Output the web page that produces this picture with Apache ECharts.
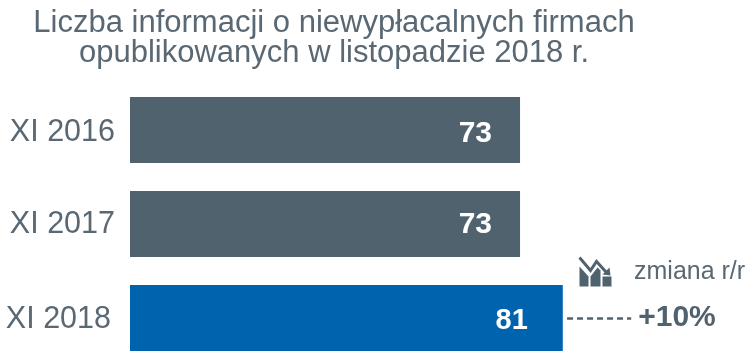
<!DOCTYPE html>
<html><head><meta charset="utf-8">
<style>html,body{margin:0;padding:0;background:#fff;width:753px;height:358px;overflow:hidden}#c{width:753px;height:380px}</style>
<script src="https://cdn.jsdelivr.net/npm/echarts@6/dist/echarts.min.js"></script>
</head><body><div id="c"></div>
<script>
const categories = ['XI 2016','XI 2017','XI 2018'];
const values = [73,73,81];
const titleLines = ['Liczba informacji o niewypłacalnych firmach','opublikowanych w listopadzie 2018 r.'];
const changeLabel = 'zmiana r/r';
const changeValue = '+10%';
const grey = '#51626f', blue = '#0063ae', textGrey = '#5a6873', font = '"Liberation Sans", Arial, sans-serif';
const chart = echarts.init(document.getElementById('c'), null, {renderer:'canvas'});
const axisText = {fontFamily:font,fontSize:30.5,color:textGrey};
chart.setOption({
  animation:false,
  backgroundColor:'#fff',
  title:{text:titleLines.join('\n'),left:329,top:3,textAlign:'center',
    textStyle:{fontFamily:font,fontSize:31,fontWeight:'normal',color:textGrey,lineHeight:30}},
  grid:{left:130,top:83,width:623,height:282},
  xAxis:{type:'value',min:0,max:116.6,show:false},
  yAxis:{type:'category',inverse:true,data:categories,
    axisLine:{show:false},axisTick:{show:false},
    axisLabel:{margin:15,
      formatter:(v,i)=>`{r${i}|${v}}`,
      rich:{r0:{...axisText,padding:[5,0,0,0]},
            r1:{...axisText,padding:[1,0,0,0]},
            r2:{...axisText,padding:[4,4,0,0]}}}},
  series:[{type:'bar',barWidth:66,
    data:values.map((v,i)=>({value:v,
      itemStyle:{color:i===2?blue:grey},
      label:{distance:i===2?35:28,offset:[0,[4,1,2.5][i]],fontSize:i===2?29:30}})),
    label:{show:true,position:'insideRight',color:'#fff',fontFamily:font,fontWeight:'bold',formatter:'{c}'},
    markLine:{silent:true,symbol:'none',
      lineStyle:{color:grey,type:[6,4],width:2.5},
      label:{show:true,position:'end',formatter:changeValue,distance:7,
        fontFamily:font,fontSize:30,fontWeight:'bold',color:grey},
      data:[[{coord:[81.8,'XI 2018']},{coord:[93.8,'XI 2018']}]]}
  }],
  graphic:[
    {type:'text',left:634,top:260,style:{text:changeLabel,fontFamily:font,fontSize:25,fill:textGrey}},
    {type:'group',left:577,top:255,children:[
      {type:'polygon',shape:{points:[[0,9],[9,19],[9,29],[0,29]]},style:{fill:grey}},
      {type:'polygon',shape:{points:[[11,19],[18,10],[21,13],[21,29],[11,29]]},style:{fill:grey}},
      {type:'rect',shape:{x:23,y:19,width:9,height:10},style:{fill:grey}},
      {type:'polyline',shape:{points:[[0,0],[11,13],[17,4],[27,15]]},style:{stroke:grey,lineWidth:3,fill:null}},
      {type:'polygon',shape:{points:[[31,18],[23,17],[30,10]]},style:{fill:grey}}
    ]}
  ]
});
</script></body></html>
